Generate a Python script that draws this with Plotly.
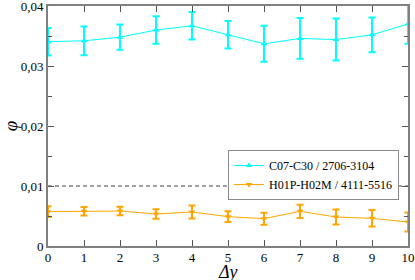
import plotly.graph_objects as go

dy = [0, 1, 2, 3, 4, 5, 6, 7, 8, 9, 10]
c07_phi = [0.03405, 0.0342, 0.0348, 0.0360, 0.0367, 0.0352, 0.0337, 0.0346, 0.0344, 0.0352, 0.0370]
c07_err = [0.0023, 0.0024, 0.0021, 0.0023, 0.0023, 0.0023, 0.0030, 0.0034, 0.0035, 0.0029, 0.0033]
h01_phi = [0.00572, 0.00578, 0.00583, 0.00533, 0.00567, 0.00489, 0.00456, 0.00578, 0.00483, 0.00461, 0.0040]
h01_err = [0.0009, 0.0007, 0.0007, 0.0008, 0.0011, 0.0009, 0.0010, 0.0011, 0.00125, 0.00137, 0.0016]
threshold = 0.01
ytick_vals = [0, 0.01, 0.02, 0.03, 0.04]
ytick_text = ["0", "0,01", "0,02", "0,03", "0,04"]

font = "Liberation Serif, serif"

fig = go.Figure()
fig.add_trace(go.Scatter(
    x=dy, y=c07_phi, mode="lines+markers", name="C07-C30 / 2706-3104",
    line=dict(color="#00FFFF", width=1),
    marker=dict(symbol="triangle-up", size=6, color="#00FFFF"),
    error_y=dict(type="data", array=c07_err, color="#00FFFF", thickness=2, width=3.5),
))
fig.add_trace(go.Scatter(
    x=dy, y=h01_phi, mode="lines+markers", name="H01P-H02M / 4111-5516",
    line=dict(color="#FFA500", width=1),
    marker=dict(symbol="triangle-down", size=6, color="#FFA500"),
    error_y=dict(type="data", array=h01_err, color="#FFA500", thickness=2, width=3.5),
))
fig.add_shape(type="line", xref="paper", x0=0, x1=1, yref="y", y0=threshold, y1=threshold,
              line=dict(color="#444444", width=1, dash="4px,3px"), layer="below")

fig.add_annotation(text="<i>Δy</i>", xref="paper", yref="paper", x=0.5, y=0,
                   xanchor="center", yanchor="top", yshift=-14, showarrow=False,
                   font=dict(family=font, size=18))

fig.update_layout(
    width=415, height=280,
    margin=dict(l=48, r=7, t=6, b=34),
    paper_bgcolor="white", plot_bgcolor="white",
    font=dict(family=font, size=13, color="black"),
    showlegend=True,
    legend=dict(x=0.975, y=0.4, xanchor="right", yanchor="top",
                bordercolor="#888888", borderwidth=1, bgcolor="white",
                font=dict(family=font, size=12), tracegroupgap=0,
                itemwidth=30),
)
fig.update_xaxes(
    range=[0, 10], tickvals=dy, showgrid=False, zeroline=False, automargin=False,
    ticklabeloverflow="allow",
    showline=True, linecolor="#808080", linewidth=2, mirror="ticks",
    ticks="inside", ticklen=6, tickcolor="#555555", tickwidth=1,
    ticklabelstandoff=-2,
)
fig.update_yaxes(
    range=[0, 0.04], tickvals=ytick_vals, ticktext=ytick_text, showgrid=False, zeroline=False,
    automargin=False, ticklabeloverflow="allow",
    showline=True, linecolor="#808080", linewidth=2, mirror="ticks",
    ticks="inside", ticklen=6, tickcolor="#555555", tickwidth=1,
    minor=dict(dtick=0.005, ticks="inside", ticklen=4, tickcolor="#555555"),
    title=dict(text="<i>φ</i>", font=dict(family=font, size=19), standoff=4),
)
fig.write_html("out.html", config={"displayModeBar": False},
               post_script="document.body.style.margin='0';document.body.style.padding='0';")
